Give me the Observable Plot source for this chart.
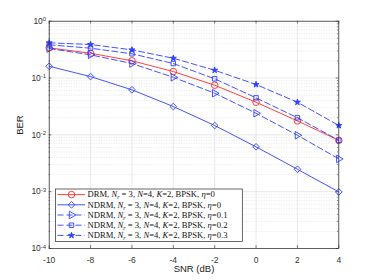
<!DOCTYPE html>
<html>
<head>
<meta charset="utf-8">
<script src="https://cdn.jsdelivr.net/npm/d3@7"></script>
<script src="https://cdn.jsdelivr.net/npm/@observablehq/plot@0.6"></script>
<style>
  html, body { margin: 0; padding: 0; background: #fff; }
  #chart { width: 374px; height: 280px; }
</style>
</head>
<body>
<div id="chart"></div>
<script>
// ---- data ----
const snr = [-10, -8, -6, -4, -2, 0, 2, 4];
const berDRM     = [0.34, 0.273, 0.201, 0.130, 0.0747, 0.0375, 0.0176, 0.0080];
const berNDRM0   = [0.161, 0.106, 0.062, 0.0315, 0.0146, 0.00615, 0.00248, 0.00099];
const berNDRM01  = [0.33, 0.256, 0.180, 0.103, 0.054, 0.024, 0.00984, 0.00378];
const berNDRM02  = [0.384, 0.335, 0.267, 0.180, 0.0968, 0.0448, 0.0200, 0.00803];
const berNDRM03  = [0.417, 0.389, 0.313, 0.223, 0.137, 0.0769, 0.0375, 0.0146];

const xTicks = [-10, -8, -6, -4, -2, 0, 2, 4];
const yDecades = [1e-4, 1e-3, 1e-2, 1e-1, 1];
const yMantissas = [2, 3, 4, 5, 6, 7, 8, 9];
const yMinor = yDecades.slice(0, -1).flatMap(d => yMantissas.map(m => m * d));

const seriesValues = [berDRM, berNDRM0, berNDRM01, berNDRM02, berNDRM03];
const legendPrefix = ["DRM", "NDRM", "NDRM", "NDRM", "NDRM"];
const legendEta = ["0", "0", "0.1", "0.2", "0.3"];

// ---- styles ----
const RED = "#ff2a2a", BLUE = "#2f3fff";
const styles = [
  {color: RED,  dash: null,  symbol: "circle",   r: 3.3, fill: "none", rotate: 0},
  {color: BLUE, dash: null,  symbol: "diamond2", r: 3.0, fill: "none", rotate: 0},
  {color: BLUE, dash: "6,3", symbol: "triangle", r: 2.8, fill: "none", rotate: 90},
  {color: BLUE, dash: "6,3", symbol: "square",   r: 2.5, fill: "none", rotate: 0},
  {color: BLUE, dash: "6,3", symbol: "star",     r: 1.9, fill: BLUE,   rotate: 0}
];

const rows = seriesValues.map((vals, i) => snr.map((x, j) => ({x, y: vals[j], s: i})));
const FONT = "Liberation Sans, Arial, sans-serif";

const marks = [
  // grid
  Plot.ruleY(yMinor, {stroke: "#d6d6d6", strokeWidth: 0.6, strokeDasharray: "1,1.5"}),
  Plot.ruleX(xTicks, {stroke: "#e3e3e3", strokeWidth: 0.8}),
  Plot.ruleY(yDecades, {stroke: "#e3e3e3", strokeWidth: 0.8}),
  // axes labels
  Plot.axisX({ticks: xTicks, anchor: "bottom", tickSize: 0, tickPadding: 8, label: null,
    tickFormat: d => String(d), fontSize: 8.5, fill: "#333", fontFamily: FONT}),
  Plot.axisY({ticks: yDecades, anchor: "left", tickSize: 0, tickPadding: 3, label: null,
    tickFormat: d => "10^" + Math.round(Math.log10(d)), fontSize: 8.5, fill: "#333", fontFamily: FONT}),
  // inward tick marks
  Plot.tickX(xTicks, {x: d => d, stroke: "#262626", strokeWidth: 0.6, insetTop: 224.5}),
  Plot.tickX(xTicks, {x: d => d, stroke: "#262626", strokeWidth: 0.6, insetBottom: 224.5}),
  Plot.tickY(yDecades, {y: d => d, stroke: "#262626", strokeWidth: 0.6, insetRight: 287}),
  Plot.tickY(yDecades, {y: d => d, stroke: "#262626", strokeWidth: 0.6, insetLeft: 287}),
  Plot.tickY(yMinor, {y: d => d, stroke: "#262626", strokeWidth: 0.5, insetRight: 288.3}),
  Plot.tickY(yMinor, {y: d => d, stroke: "#262626", strokeWidth: 0.5, insetLeft: 288.3}),
];

rows.forEach((data, i) => {
  const st = styles[i];
  marks.push(Plot.line(data, {x: "x", y: "y", stroke: st.color, strokeWidth: 0.9,
    strokeDasharray: st.dash || undefined}));
  marks.push(Plot.dot(data, {x: "x", y: "y", symbol: () => st.symbol, r: st.r, stroke: st.color,
    strokeWidth: 0.9, fill: st.fill, rotate: st.rotate}));
});

marks.push(Plot.frame({stroke: "#262626", strokeWidth: 0.7}));
marks.push(Plot.text(["SNR (dB)"], {text: d => d, frameAnchor: "bottom", dy: 23, fontSize: 9.5,
  fill: "#222", fontFamily: FONT}));
marks.push(Plot.text(["BER"], {text: d => d, frameAnchor: "left", dx: -29, rotate: -90, fontSize: 9.5,
  fill: "#222", fontFamily: FONT}));

const chart = Plot.plot({
  width: 374,
  height: 280,
  marginLeft: 48.7,
  marginRight: 35.7,
  marginTop: 20.7,
  marginBottom: 32,
  x: {domain: [-10, 4], axis: null},
  y: {type: "log", domain: [1e-4, 1], axis: null},
  symbol: {type: "identity"},
  style: {background: "#fff", overflow: "visible"},
  marks
});

const svg = d3.select(chart);

// superscript exponents on the y tick labels
svg.selectAll("text").each(function() {
  const m = /^10\^(-?\d+)$/.exec(this.textContent);
  if (!m) return;
  const t = d3.select(this);
  t.text(null);
  t.append("tspan").text("10");
  t.append("tspan").attr("dy", "-0.45em").attr("font-size", "6px").text(m[1]);
});

// ---- legend (inside the plot) ----
const lg = svg.append("g").attr("font-family", "Liberation Serif, Times New Roman, serif")
  .attr("font-size", 8.6).attr("text-anchor", "start");
lg.append("rect").attr("x", 55.5).attr("y", 189).attr("width", 186.8).attr("height", 52.5)
  .attr("fill", "#fff").attr("stroke", "#262626").attr("stroke-width", 0.7);
const rowY = [194.6, 204.8, 215.0, 225.2, 235.4];
const symMap = {circle: d3.symbolCircle, diamond2: d3.symbolDiamond2, triangle: d3.symbolTriangle,
  square: d3.symbolSquare, star: d3.symbolStar};
styles.forEach((st, i) => {
  const y = rowY[i];
  lg.append("line").attr("x1", 57.5).attr("x2", 85).attr("y1", y).attr("y2", y)
    .attr("stroke", st.color).attr("stroke-width", 0.9)
    .attr("stroke-dasharray", st.dash || null);
  lg.append("path").attr("d", d3.symbol(symMap[st.symbol], Math.PI * st.r * st.r)())
    .attr("transform", `translate(71.5,${y}) rotate(${st.rotate})`)
    .attr("fill", st.fill).attr("stroke", st.color).attr("stroke-width", 0.9);
  const t = lg.append("text").attr("x", 87.5).attr("y", y).attr("dy", "0.32em").attr("fill", "#111");
  t.append("tspan").text(legendPrefix[i] + ", ");
  t.append("tspan").attr("font-style", "italic").text("N");
  t.append("tspan").attr("font-style", "italic").attr("font-size", "6px").attr("dy", 2).text("r");
  t.append("tspan").attr("dy", -2).text(" = 3, ");
  t.append("tspan").attr("font-style", "italic").text("N");
  t.append("tspan").text("=4, ");
  t.append("tspan").attr("font-style", "italic").text("K");
  t.append("tspan").text("=2, BPSK, ");
  t.append("tspan").attr("font-style", "italic").text("η");
  t.append("tspan").text("=" + legendEta[i]);
});

document.getElementById("chart").appendChild(chart);
</script>
</body>
</html>
